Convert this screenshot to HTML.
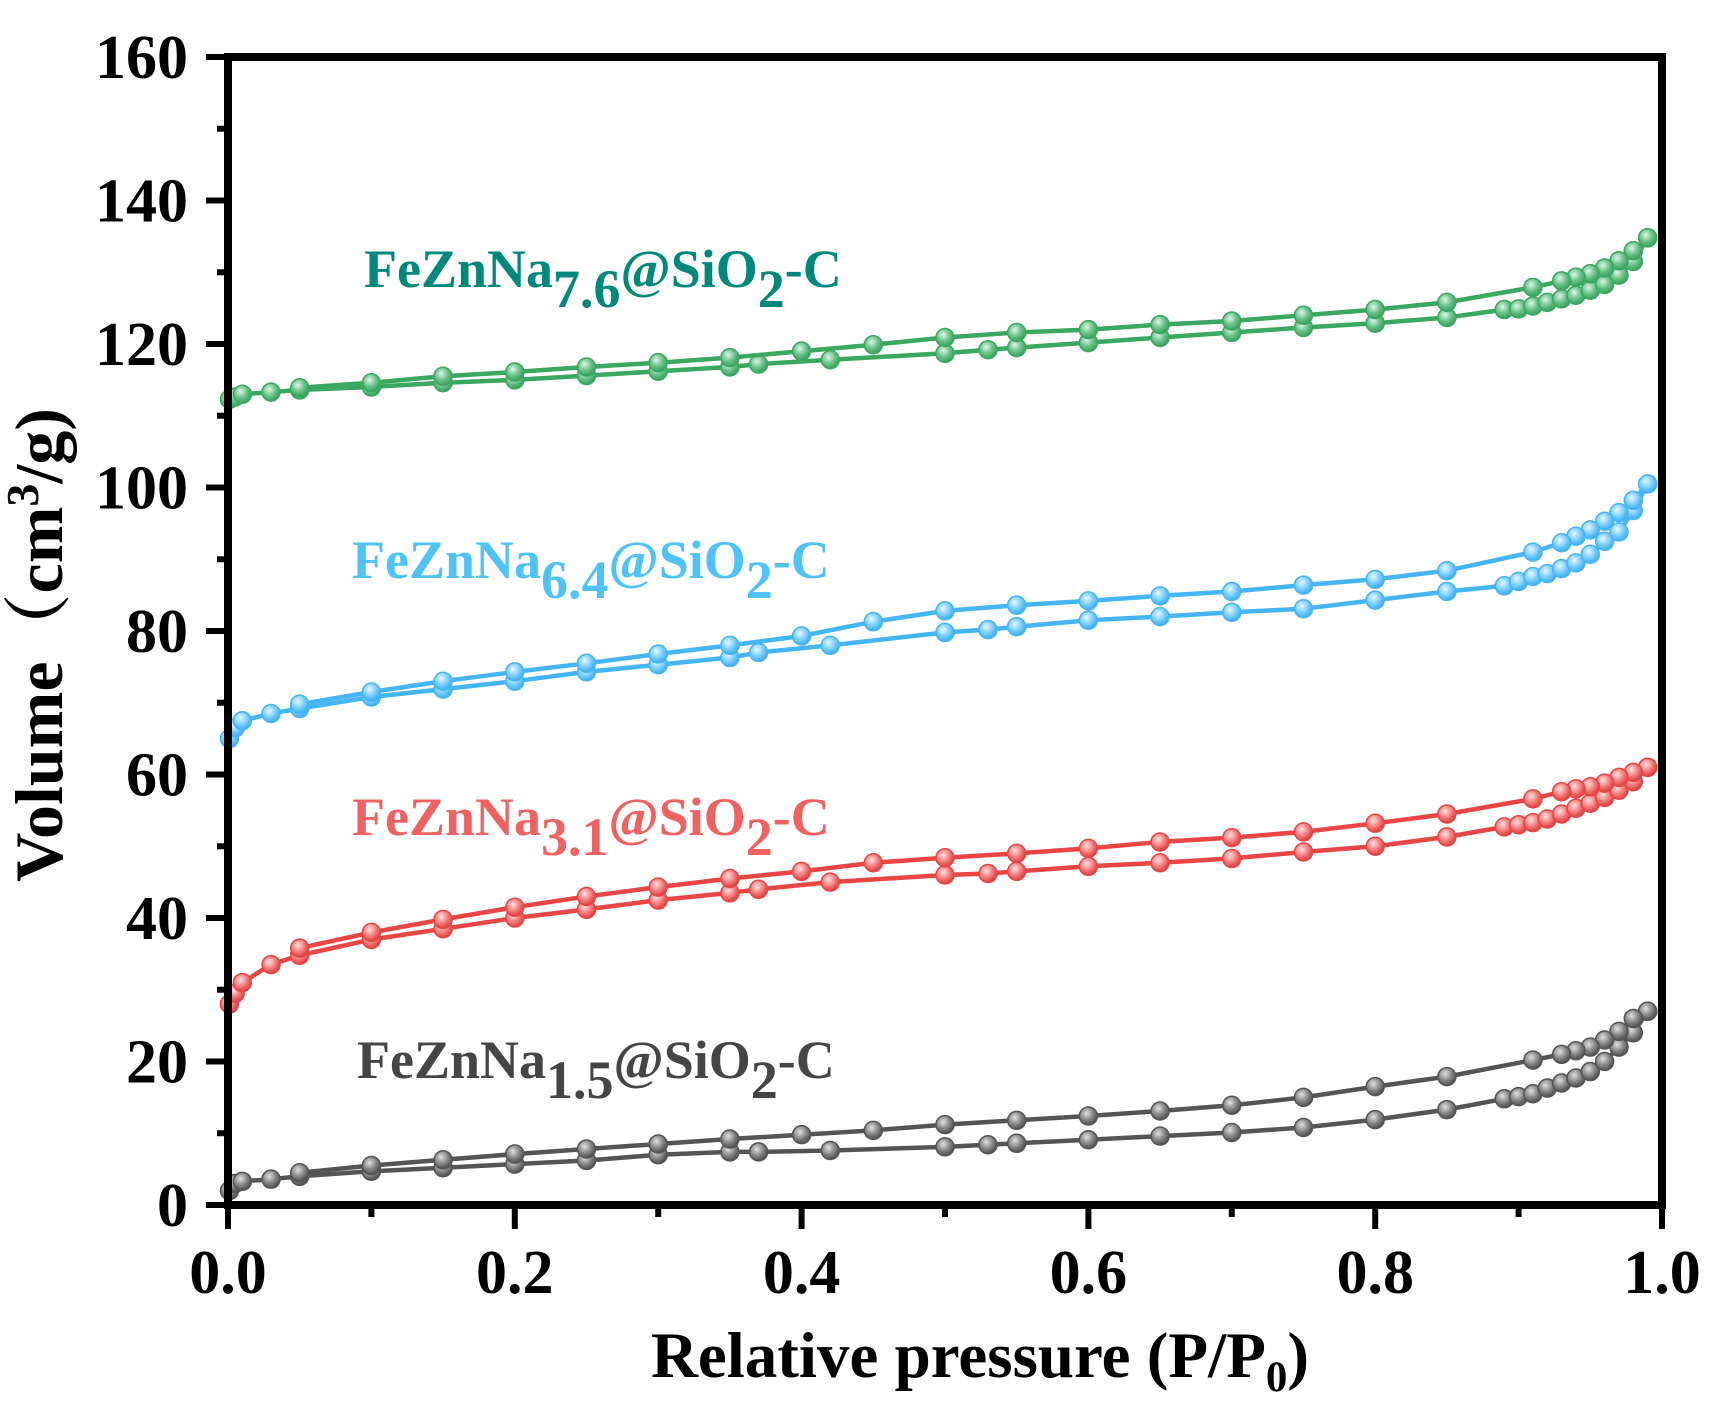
<!DOCTYPE html>
<html><head><meta charset="utf-8"><style>
html,body{margin:0;padding:0;background:#fff;}
svg{display:block;font-family:"Liberation Serif",serif;font-weight:bold;}
</style></head><body>
<svg id="chart" width="1715" height="1410" viewBox="0 0 1715 1410" xmlns="http://www.w3.org/2000/svg">
<defs>
<radialGradient id="gGray" cx="0.4" cy="0.35" r="0.7"><stop offset="0" stop-color="#e0e0e0"/><stop offset="0.5" stop-color="#8a8a8a"/><stop offset="1" stop-color="#444"/></radialGradient>
<radialGradient id="gRed" cx="0.4" cy="0.35" r="0.7"><stop offset="0" stop-color="#ffe0e0"/><stop offset="0.5" stop-color="#f58080"/><stop offset="1" stop-color="#d83030"/></radialGradient>
<radialGradient id="gBlue" cx="0.4" cy="0.35" r="0.7"><stop offset="0" stop-color="#e8f7ff"/><stop offset="0.5" stop-color="#7fd0fb"/><stop offset="1" stop-color="#2fa8ee"/></radialGradient>
<radialGradient id="gGreen" cx="0.4" cy="0.35" r="0.7"><stop offset="0" stop-color="#e0f5e6"/><stop offset="0.5" stop-color="#6cc48a"/><stop offset="1" stop-color="#2e9a55"/></radialGradient>
</defs>
<g id="series"></g>
<g id="axes"></g>
<text x="980" y="1377" font-size="65" text-anchor="middle">Relative pressure (P/P<tspan font-size="43" dy="14">0</tspan><tspan dy="-14">)</tspan></text>
<text transform="translate(62,645) rotate(-90)" font-size="68" text-anchor="middle" font-family="'Liberation Serif','Noto Serif CJK SC',serif">Volume（cm<tspan font-size="46" dy="-24">3</tspan><tspan dy="24">/g)</tspan></text>
<text x="364" y="287" font-size="54" fill="#00897b">FeZnNa<tspan dy="20">7.6</tspan><tspan dy="-20">@SiO</tspan><tspan dy="20">2</tspan><tspan dy="-20">-C</tspan></text>
<text x="352" y="578" font-size="54" fill="#4fc3f7">FeZnNa<tspan dy="20">6.4</tspan><tspan dy="-20">@SiO</tspan><tspan dy="20">2</tspan><tspan dy="-20">-C</tspan></text>
<text x="352" y="835" font-size="54" fill="#f06262">FeZnNa<tspan dy="20">3.1</tspan><tspan dy="-20">@SiO</tspan><tspan dy="20">2</tspan><tspan dy="-20">-C</tspan></text>
<text x="357" y="1078" font-size="54" fill="#454545">FeZnNa<tspan dy="20">1.5</tspan><tspan dy="-20">@SiO</tspan><tspan dy="20">2</tspan><tspan dy="-20">-C</tspan></text>
</svg>
<script>
const adsP=[0.001,0.005,0.01,0.03,0.05,0.1,0.15,0.2,0.25,0.3,0.35,0.37,0.42,0.5,0.53,0.55,0.6,0.65,0.7,0.75,0.8,0.85,0.89,0.9,0.91,0.92,0.93,0.94,0.95,0.96,0.97,0.98,0.99];
const desP=[0.99,0.98,0.97,0.96,0.95,0.94,0.93,0.91,0.85,0.8,0.75,0.7,0.65,0.6,0.55,0.5,0.45,0.4,0.35,0.3,0.25,0.2,0.15,0.1,0.05];
const grayAds=[2,3,3.3,3.6,4,4.7,5.2,5.7,6.2,7,7.4,7.4,7.6,8.1,8.4,8.6,9.1,9.6,10.1,10.8,11.9,13.3,14.8,15.1,15.5,16.3,17,17.7,18.6,20,22,24,27];
const grayDes=[27,26,24.2,23,22,21.5,21,20.2,17.9,16.5,15,13.9,13.1,12.4,11.8,11.2,10.4,9.8,9.2,8.5,7.8,7.1,6.3,5.5,4.5];
const redAds=[28,29.5,31,33.5,34.8,37,38.5,40,41.2,42.5,43.5,44,45,46,46.2,46.5,47.2,47.7,48.3,49.2,50,51.3,52.7,53,53.3,53.8,54.5,55.3,56,56.8,57.8,59,61];
const redDes=[61,60.3,59.6,58.8,58.3,58,57.6,56.6,54.5,53.2,52,51.2,50.6,49.7,49,48.4,47.7,46.5,45.5,44.3,43,41.5,39.8,38,35.8];
const blueAds=[65,66.5,67.5,68.5,69.2,70.8,71.9,73,74.3,75.3,76.3,77,78,79.8,80.2,80.6,81.5,82,82.6,83.1,84.3,85.5,86.3,86.9,87.6,88,88.7,89.5,90.7,92.5,93.8,96.8,100.5];
const blueDes=[100.5,98.2,96.5,95.3,94.1,93.2,92.3,91,88.4,87.2,86.4,85.5,84.9,84.2,83.6,82.8,81.3,79.3,78,76.8,75.5,74.3,73,71.5,69.8];
const greenAds=[112.3,112.6,113,113.3,113.6,114,114.6,115,115.6,116.2,116.8,117.2,117.8,118.7,119.2,119.5,120.2,120.9,121.6,122.3,122.9,123.7,124.8,124.9,125.3,125.8,126.3,126.8,127.5,128.3,129.6,131.5,134.8];
const greenDes=[134.8,133,131.6,130.6,129.8,129.3,128.8,127.9,125.8,124.8,124,123.2,122.7,122,121.6,120.9,119.9,119,118.1,117.4,116.8,116.1,115.5,114.6,113.9];
const xTicks=["0.0","0.2","0.4","0.6","0.8","1.0"];
const yTicks=["0","20","40","60","80","100","120","140","160"];

const NS="http://www.w3.org/2000/svg";
const X0=228,X1=1662,Y0=1205,Y1=57;
const sx=v=>X0+(X1-X0)*v;
const sy=v=>Y0-(Y0-Y1)*v/160;
function mk(tag,attrs,parent){const e=document.createElementNS(NS,tag);for(const k in attrs)e.setAttribute(k,attrs[k]);parent.appendChild(e);return e;}
const sg=document.getElementById('series');
const specs=[["gray",grayAds,grayDes,"#555555","url(#gGray)"],["red",redAds,redDes,"#e84545","url(#gRed)"],["blue",blueAds,blueDes,"#45b5f3","url(#gBlue)"],["green",greenAds,greenDes,"#3aa860","url(#gGreen)"]];
specs.forEach(([name,ads,des,col,fill])=>{
  [[adsP,ads,"adsorption"],[desP,des,"desorption"]].forEach(([ps,vs,kind])=>{
    const g=mk('g',{},sg);
    
    
    const pts=ps.map((p,i)=>sx(p).toFixed(1)+','+sy(vs[i]).toFixed(1)).join(' ');
    const l=mk('polyline',{points:pts,fill:'none',stroke:col,'stroke-width':4.5},g);
    
    
    ps.forEach((p,i)=>{
      const c=mk('circle',{cx:sx(p),cy:sy(vs[i]),r:9,fill:fill,stroke:col,'stroke-width':1.5},g);
      
      
    });
  });
});
const ax=document.getElementById('axes');
const frame=mk('rect',{x:X0,y:Y1,width:X1-X0,height:Y0-Y1,fill:'none',stroke:'#000','stroke-width':8},ax);


for(let k=0;k<=16;k++){
  const y=sy(k*10);const major=k%2===0;
  const t=mk('line',{x1:X0,x2:X0-(major?22:11),y1:y,y2:y,stroke:'#000','stroke-width':6},ax);
  
  
}
yTicks.forEach((s,i)=>{
  const t=mk('text',{x:188,y:sy(i*20)+21,'font-size':62,'text-anchor':'end'},ax);
  t.textContent=s;
  
  
});
for(let k=0;k<=10;k++){
  const x=sx(k/10);const major=k%2===0;
  const t=mk('line',{x1:x,x2:x,y1:Y0,y2:Y0+(major?24:12),stroke:'#000','stroke-width':6},ax);
  
  
}
xTicks.forEach((s,i)=>{
  const t=mk('text',{x:sx(i*0.2),y:1293,'font-size':62,'text-anchor':'middle'},ax);
  t.textContent=s;
  
  
});
</script>
</body></html>
